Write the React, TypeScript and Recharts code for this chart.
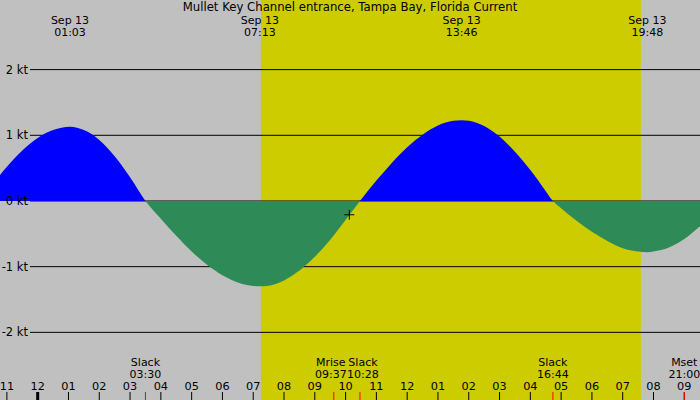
import {
  ComposedChart,
  Area,
  XAxis,
  YAxis,
  ReferenceArea,
  ReferenceLine,
  ReferenceDot,
} from "recharts";

// hours from midnight Sep 13 (negative = Sep 12), current in knots
const hours = [
  -1.5, -1, -0.5, 0, 0.5, 1.05, 1.5, 2, 2.5, 3, 3.5, 4, 4.5, 5, 5.5, 6, 6.5,
  7.217, 7.5, 8, 8.5, 9, 9.5, 10, 10.467, 11, 11.5, 12, 12.5, 13, 13.5, 13.767,
  14, 14.5, 15, 15.5, 16, 16.5, 16.733, 17, 17.5, 18, 18.5, 19, 19.5, 19.8, 20,
  20.5, 21, 21.5, 22,
];
const knots = [
  0.24, 0.52, 0.77, 0.96, 1.08, 1.13, 1.08, 0.93, 0.68, 0.36, 0, -0.27, -0.53,
  -0.77, -0.97, -1.13, -1.24, -1.3, -1.29, -1.21, -1.06, -0.85, -0.59, -0.29, 0,
  0.31, 0.58, 0.82, 1.01, 1.15, 1.22, 1.23, 1.22, 1.14, 0.98, 0.75, 0.47, 0.15,
  0, -0.11, -0.3, -0.47, -0.61, -0.72, -0.77, -0.78, -0.77, -0.71, -0.58, -0.39,
  -0.17,
];

const gridKnots = [-2, -1, 0, 1, 2];
const hourTicks = [
  -1, 0, 1, 2, 3, 4, 5, 6, 7, 8, 9, 10, 11, 12, 13, 14, 15, 16, 17, 18, 19, 20,
  21,
];

const extremeHours = [1.05, 7.217, 13.767, 19.8];
const extremeDates = ["Sep 13", "Sep 13", "Sep 13", "Sep 13"];
const extremeTimes = ["01:03", "07:13", "13:46", "19:48"];

const eventHours = [3.5, 9.617, 10.467, 16.733, 21];
const eventNames = ["Slack", "Mrise", "Slack", "Slack", "Mset"];
const eventTimes = ["03:30", "09:37", "10:28", "16:44", "21:00"];

const sunrise = 7.25;
const sunset = 19.59;
const nowHour = 10.12;
const nowKnots = -0.21;

const startHour = -1.224;
const endHour = 21.51;
const gridStartHour = -0.25;
const minKnots = -3.03;
const maxKnots = 3.06;

const title = "Mullet Key Channel entrance, Tampa Bay, Florida Current";

const data = hours.map((t, i) => ({ t, v: knots[i] }));

const W = 700;
const H = 400;
const zeroOffset = maxKnots / (maxKnots - minKnots);

const FONT = "'DejaVu Sans', sans-serif";
const FS = 11;

const hourLabel = (h: number) => {
  const hh = ((h % 12) + 12) % 12;
  return String(hh === 0 ? 12 : hh).padStart(2, "0");
};

const HourTick = (props: any) => {
  const { x, payload } = props;
  const h = payload.value;
  return (
    <g>
      <text x={x} y={389.5} textAnchor="middle" fontSize={FS + 0.3} fontFamily={FONT} fill="#000">
        {hourLabel(h)}
      </text>
      <line
        x1={x}
        x2={x}
        y1={392}
        y2={400}
        stroke="#000"
        strokeWidth={h === 0 ? 3 : 1}
      />
    </g>
  );
};

const EventTick = (props: any) => {
  const { x, index } = props;
  const prev = eventHours[index - 1];
  const next = eventHours[index + 1];
  let dx = 0;
  if (next !== undefined && next - eventHours[index] < 1) dx = -3;
  if (prev !== undefined && eventHours[index] - prev < 1) dx = 3;
  return (
    <g>
      <text x={x + dx} y={366} textAnchor="middle" fontSize={FS} fontFamily={FONT} fill="#000">
        {eventNames[index]}
      </text>
      <text x={x + dx} y={378} textAnchor="middle" fontSize={FS} fontFamily={FONT} fill="#000">
        {eventTimes[index]}
      </text>
      <line x1={x} x2={x} y1={392} y2={400} stroke="#ff0000" strokeWidth={1} />
    </g>
  );
};

const ExtremeTick = (props: any) => {
  const { x, index } = props;
  return (
    <g>
      <text x={x} y={23.5} textAnchor="middle" fontSize={FS} fontFamily={FONT} fill="#000">
        {extremeDates[index]}
      </text>
      <text x={x} y={36} textAnchor="middle" fontSize={FS} fontFamily={FONT} fill="#000">
        {extremeTimes[index]}
      </text>
    </g>
  );
};

const NowMark = (props: any) => {
  const { cx, cy } = props;
  return (
    <path
      d={`M${cx - 5},${cy}h10M${cx},${cy - 5}v10`}
      stroke="#000"
      strokeWidth={1}
      fill="none"
    />
  );
};

export default function App() {
  return (
    <div
      style={{
        position: "relative",
        width: W,
        height: H,
        background: "#c0c0c0",
        fontFamily: FONT,
      }}
    >
      <style>{"body{margin:0}"}</style>
      <ComposedChart
        width={W}
        height={H}
        data={data}
        margin={{ top: 0, right: 0, bottom: 0, left: 0 }}
      >
        <defs>
          <linearGradient id="flow" gradientUnits="userSpaceOnUse" x1={0} y1={0} x2={0} y2={H}>
            <stop offset={zeroOffset} stopColor="#0000ff" />
            <stop offset={zeroOffset} stopColor="#2e8b57" />
          </linearGradient>
        </defs>
        <XAxis
          dataKey="t"
          type="number"
          domain={[startHour, endHour]}
          allowDataOverflow
          ticks={hourTicks}
          interval={0}
          mirror
          axisLine={false}
          tickLine={false}
          tick={HourTick}
        />
        <XAxis
          xAxisId="ev"
          dataKey="t"
          type="number"
          domain={[startHour, endHour]}
          allowDataOverflow
          ticks={eventHours}
          interval={0}
          mirror
          axisLine={false}
          tickLine={false}
          tick={EventTick}
        />
        <XAxis
          xAxisId="top"
          orientation="top"
          dataKey="t"
          type="number"
          domain={[startHour, endHour]}
          allowDataOverflow
          ticks={extremeHours}
          interval={0}
          mirror
          axisLine={false}
          tickLine={false}
          tick={ExtremeTick}
        />
        <YAxis type="number" domain={[minKnots, maxKnots]} allowDataOverflow hide />
        <ReferenceArea
          x1={sunrise}
          x2={sunset}
          fill="#cccc00"
          fillOpacity={1}
          stroke="none"
          zIndex={10}
        />
        {gridKnots.map((k) => (
          <ReferenceLine
            key={k}
            segment={[
              { x: gridStartHour, y: k },
              { x: endHour, y: k },
            ]}
            stroke="#000"
            strokeWidth={1}
            zIndex={20}
            label={{
              value: `${k} kt`,
              position: "left",
              offset: 2,
              fontSize: FS + 0.5,
              fontFamily: FONT,
              fill: "#000",
            }}
          />
        ))}
        <Area
          dataKey="v"
          type="monotone"
          baseValue={0}
          stroke="none"
          fill="url(#flow)"
          fillOpacity={1}
          dot={false}
          activeDot={false}
          isAnimationActive={false}
        />
        <ReferenceDot x={nowHour} y={nowKnots} shape={NowMark} />
      </ComposedChart>
      <div
        style={{
          position: "absolute",
          top: 1,
          left: 0,
          width: W,
          textAlign: "center",
          fontSize: 11.7,
          lineHeight: "13px",
          color: "#000",
        }}
      >
        {title}
      </div>
    </div>
  );
}
